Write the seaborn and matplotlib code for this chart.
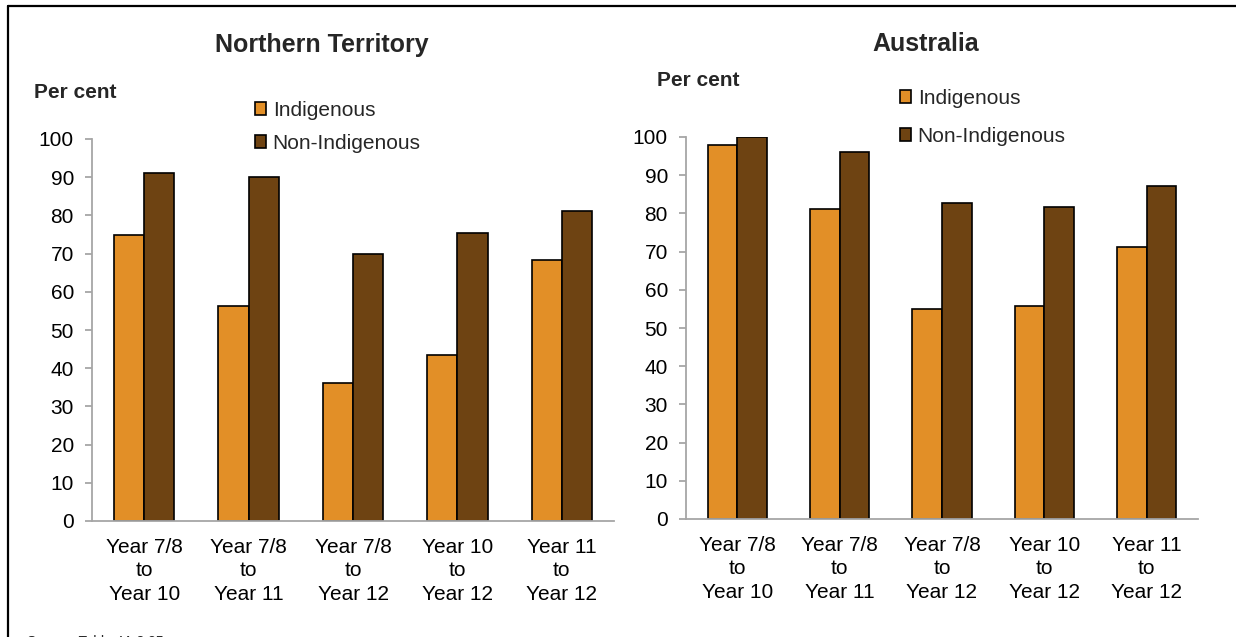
import pandas as pd
import matplotlib.pyplot as plt
import seaborn as sns
from matplotlib.lines import Line2D

# ------------------------------------------------
# Data
# ------------------------------------------------
categories = ["Year 7/8\nto\nYear 10", "Year 7/8\nto\nYear 11", "Year 7/8\nto\nYear 12",
              "Year 10\nto\nYear 12", "Year 11\nto\nYear 12"]
groups = ["Indigenous", "Non-Indigenous"]

nt_indigenous = [75.0, 56.4, 36.1, 43.5, 68.2]
nt_non_indigenous = [91.1, 90.0, 69.8, 75.5, 81.2]
aus_indigenous = [97.9, 81.1, 54.9, 55.7, 71.1]
aus_non_indigenous = [100.0, 96.0, 82.7, 81.8, 87.2]

panel_titles = ["Northern Territory", "Australia"]
y_ticks = [0, 10, 20, 30, 40, 50, 60, 70, 80, 90, 100]
source_note = "Source: Table 4A.3.25"


def long_table(ind, non_ind):
    rows = []
    for cat, a, b in zip(categories, ind, non_ind):
        rows.append({"period": cat, "group": groups[0], "value": a})
        rows.append({"period": cat, "group": groups[1], "value": b})
    return pd.DataFrame(rows)


df_nt = long_table(nt_indigenous, nt_non_indigenous)
df_aus = long_table(aus_indigenous, aus_non_indigenous)

sns.set_style("white")
plt.rcParams["font.family"] = ["Liberation Sans", "DejaVu Sans"]

colors = {"Indigenous": "#E28F27", "Non-Indigenous": "#6E4312"}
axis_grey = "#A6A6A6"

W, H = 1236, 637
fig = plt.figure(figsize=(W / 100, H / 100), dpi=100)

# axes boxes in pixels: left, top(of 100), right, bottom(of 0)
boxes = [(92, 139, 614, 521), (686, 137, 1198, 519)]
title_pos = [(322, 45), (926, 44)]
percent_pos = [(34, 92), (657, 80)]
legend_pos = [(255, 101), (900, 89)]
legend_spacing = [0.66, 0.9]

for i, df in enumerate([df_nt, df_aus]):
    l, t, r, b = boxes[i]
    ax = fig.add_axes([l / W, 1 - b / H, (r - l) / W, (b - t) / H])
    sns.barplot(data=df, x="period", y="value", hue="group", hue_order=groups,
                palette=colors, width=0.58, gap=0, edgecolor="black",
                linewidth=1.2, saturation=1, ax=ax)
    ax.set_ylim(0, 100)
    ax.set_xlim(-0.5, 4.5)
    ax.set_yticks(y_ticks)
    ax.set_xlabel("")
    ax.set_ylabel("")
    for side in ["top", "right"]:
        ax.spines[side].set_visible(False)
    for side in ["left", "bottom"]:
        ax.spines[side].set_color(axis_grey)
        ax.spines[side].set_linewidth(1.3)
    ax.tick_params(axis="y", length=5, width=1.3, color=axis_grey, pad=8,
                   labelsize=15, labelcolor="black", left=True)
    ax.tick_params(axis="x", length=0, pad=12, labelsize=15, labelcolor="black")
    for lab in ax.get_xticklabels():
        lab.set_ha("center")
        lab.set_multialignment("center")
        lab.set_linespacing(1.3)

    handles, labels = ax.get_legend_handles_labels()
    ax.get_legend().remove()
    lx, ly = legend_pos[i]
    fig.legend(handles, labels, loc="upper left", bbox_to_anchor=(lx / W, 1 - ly / H),
               frameon=False, fontsize=15, borderpad=0, borderaxespad=0,
               handlelength=0.55, handleheight=0.55, handletextpad=0.3,
               labelspacing=legend_spacing[i])

    tx, ty = title_pos[i]
    fig.text(tx / W, 1 - ty / H, panel_titles[i], ha="center", va="center",
             fontsize=18, fontweight="bold")
    px, py = percent_pos[i]
    fig.text(px / W, 1 - py / H, "Per cent", ha="left", va="center",
             fontsize=15, fontweight="bold")

# outer frame (left and top edges only are visible in the crop)
fig.add_artist(Line2D([8 / W, 8 / W], [0, 1 - 6 / H], color="black", lw=1.6,
                      transform=fig.transFigure))
fig.add_artist(Line2D([8 / W, 1], [1 - 6 / H, 1 - 6 / H], color="black", lw=1.6,
                      transform=fig.transFigure))

# source note, cut off at the bottom edge of the image as in the reference
fig.text(27 / W, 1 - 635.5 / H, source_note, ha="left", va="top", fontsize=10)

fig.savefig("out.png", dpi=100)
